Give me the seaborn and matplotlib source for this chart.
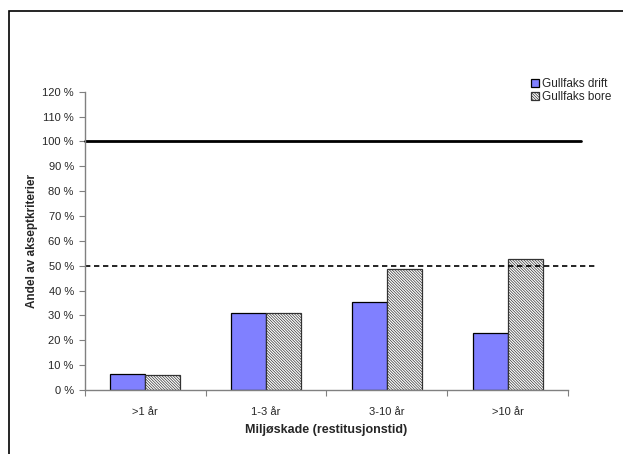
import matplotlib.pyplot as plt
import seaborn as sns
import pandas as pd
from matplotlib.patches import Rectangle

sns.set_theme(style="white")
plt.rcParams["font.family"] = ["Liberation Sans", "DejaVu Sans"]
plt.rcParams["hatch.linewidth"] = 0.5

# data (percent of acceptance criteria)
categories = [">1 år", "1-3 år", "3-10 år", ">10 år"]
series = ["Gullfaks drift", "Gullfaks bore"]
drift = [6.5, 30.8, 35.5, 23.0]
bore = [6.2, 31.1, 48.6, 52.7]
limit_full = 100
limit_half = 50
yticks = list(range(0, 121, 10))

df = pd.DataFrame({
    "kat": categories * 2,
    "serie": [series[0]] * 4 + [series[1]] * 4,
    "verdi": drift + bore,
})

fig = plt.figure(figsize=(6.23, 4.54), dpi=100)
ax = fig.add_axes([0.1364, 0.141, 0.7753, 0.657])

sns.barplot(data=df, x="kat", y="verdi", hue="serie", ax=ax,
            palette=["#8080FF", "white"], width=0.58, gap=0,
            edgecolor="black", linewidth=0.9, legend=False, saturation=1)

for bar in ax.containers[1]:
    bar.set_hatch("\\" * 12)
    bar.set_edgecolor("#333333")

# reference lines running a bit past the axis
ax.plot([0, 1.026], [limit_full, limit_full], color="black", lw=2.0,
        transform=ax.get_yaxis_transform(), clip_on=False)
ax.plot([0, 1.056], [limit_half, limit_half], color="black", lw=1.2,
        dashes=(3.2, 2.2), transform=ax.get_yaxis_transform(), clip_on=False)

ax.set_ylim(0, 120)
ax.set_xlim(-0.5, 3.5)
ax.set_yticks(yticks)
ax.set_yticklabels([f"{t} %" for t in yticks])
ax.set_xticks([-0.5, 0.5, 1.5, 2.5, 3.5])
ax.set_xticklabels([])
ax.set_xticks(range(len(categories)), minor=True)
ax.set_xticklabels(categories, minor=True)
ax.tick_params(axis="both", which="major", length=4, width=0.8, color="#808080",
               labelsize=8, pad=4, left=True, bottom=True)
ax.tick_params(axis="x", which="minor", length=0, labelsize=8, pad=12)

for side in ["top", "right"]:
    ax.spines[side].set_visible(False)
for side in ["left", "bottom"]:
    ax.spines[side].set_color("#808080")
    ax.spines[side].set_linewidth(1.0)

ax.set_xlabel("Miljøskade (restitusjonstid)", fontsize=9, fontweight="bold", labelpad=5)
ax.set_ylabel("Andel av akseptkriterier", fontsize=8.5, fontweight="bold", labelpad=3)

ax.legend(handles=[ax.containers[0], ax.containers[1]], labels=series,
          loc="upper left", bbox_to_anchor=(0.845, 0.838), bbox_transform=fig.transFigure,
          frameon=False, fontsize=8.5, handlelength=0.65, handleheight=0.65,
          handletextpad=0.3, labelspacing=0.05, borderaxespad=0)

# outer frame of the embedded chart
fig.add_artist(Rectangle((8.5 / 623, -0.1), 1.2, (454 - 11) / 454 + 0.1,
                         transform=fig.transFigure, fill=False, ec="black", lw=1.2))

fig.savefig("out.png", dpi=100)
